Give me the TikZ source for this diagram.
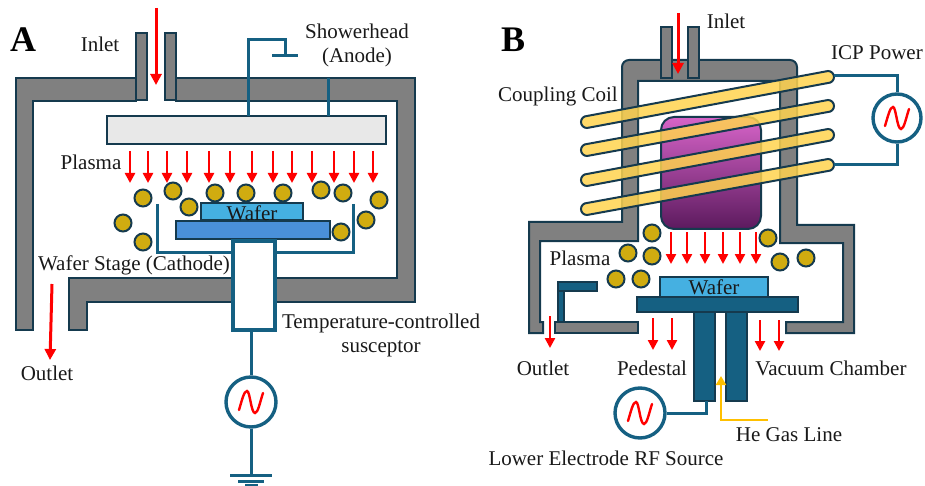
\documentclass[tikz,border=0pt]{standalone}
\usepackage{fontspec}
\setmainfont{Liberation Serif}
\usetikzlibrary{arrows.meta}
\definecolor{navy}{HTML}{153A4E}
\definecolor{wallgray}{HTML}{808080}
\definecolor{wire}{HTML}{156082}
\definecolor{skyb}{HTML}{45B0E1}
\definecolor{stageb}{HTML}{4A90D9}
\definecolor{gold}{HTML}{D0AC10}
\definecolor{coil}{HTML}{FFD34F}
\definecolor{heline}{HTML}{FFC000}
\definecolor{plasmatop}{HTML}{D664C8}
\definecolor{plasmabot}{HTML}{5C1A5E}
\tikzset{
  wall/.style={fill=wallgray,draw=navy,line width=2pt,line join=miter},
  wirel/.style={draw=wire,line width=3pt},
  flow/.style={draw=red,line width=3pt,-{Triangle[length=11pt,width=11pt]}},
  flowthin/.style={draw=red,line width=2.4pt,-{Triangle[length=10pt,width=10pt]}},
  particle/.style={circle,fill=gold,draw=navy,line width=2pt,minimum size=17pt,inner sep=0pt},
  lbl/.style={font=\fontsize{21}{23}\selectfont,inner sep=0pt,text=black!90},
  letter/.style={font=\fontsize{36}{38}\selectfont\bfseries,inner sep=0pt},
  source/.style={circle,draw=wire,line width=3.4pt,fill=white,minimum size=50pt,inner sep=0pt},
  coilbar/.style={draw=navy,line width=2pt,fill=coil,fill opacity=.85},
  boxa/.style={draw=navy,line width=2pt,inner sep=0pt},
}
\newcommand{\sinewave}[1]{\draw[red,line width=2.4pt,line cap=round] ([shift={(-12,8)}]#1.center) .. controls ([shift={(-9,-2)}]#1.center) and ([shift={(-7,-11)}]#1.center) .. ([shift={(-4,-11)}]#1.center) .. controls ([shift={(-1,-11)}]#1.center) and ([shift={(0,11)}]#1.center) .. ([shift={(4,11)}]#1.center) .. controls ([shift={(7,11)}]#1.center) and ([shift={(9,0)}]#1.center) .. ([shift={(12,-9)}]#1.center);}
\begin{document}
\begin{tikzpicture}[x=1pt,y=-1pt]
\useasboundingbox (0,0) rectangle (925,486);
% ------- Panel A
\node[letter] (la) at (23,40) {A};
\draw[wall] (136,78) -- (16,78) -- (16,330) -- (33,330) -- (33,101) -- (136,101) -- cycle;
\draw[wall] (176,78) -- (415,78) -- (415,302) -- (87,302) -- (87,330) -- (69,330) -- (69,278) -- (397,278) -- (397,101) -- (176,101) -- cycle;
\draw[wall] (136,33) rectangle (147,100);
\draw[wall] (165,33) rectangle (176,100);
\coordinate (ainT) at (156,8); \coordinate (ainB) at (156,85);
\draw[flow] (ainT) -- (ainB);
\node[lbl] (tinA) at (100,44) {Inlet};
\node[boxa,fill=black!9,minimum width=279pt,minimum height=28pt] (shower) at (246.5,130) {};
\coordinate (g1) at (248,40); \coordinate (g2) at (285,40); \coordinate (g3) at (285,56);
\draw[wirel] (248,116) -- (g1) -- (g2) -- (g3);
\draw[wirel] (272,56) -- (298,56);
\draw[wirel] (328,116) -- (328,78);
\node[lbl] (tsh) at (357,31) {Showerhead};
\node[lbl] (tan) at (357,57) {(Anode)};
\node[lbl] (tplA) at (91,162) {Plasma};
\foreach \x in {130,148,167,187,209,230,252,273,292,312,334,354,373}
  \draw[flowthin] (\x,151) -- (\x,183);
\foreach \x/\y in {143/198,173/191,189/207,215/193,123/223,143/242,246/193,283/193,321/190,343/193,379/200,366/220,341/232}
  \node[particle] at (\x,\y) {};
\draw[wirel] (157,204) -- (157,252) -- (233,252);
\draw[wirel] (353,204) -- (353,252) -- (275,252);
\node[boxa,fill=skyb,minimum width=102pt,minimum height=17pt] (waferA) at (252,212) {};
\node[boxa,fill=stageb,minimum width=154pt,minimum height=18pt] (stageA) at (253,230) {};
\node[lbl] at (252,213) {Wafer};
\node[draw=wire,line width=3.4pt,fill=white,minimum width=42pt,minimum height=89pt,inner sep=0pt] (susc) at (254,285.5) {};
\node[lbl] (tws) at (134,265) {Wafer Stage (Cathode)};
\node[lbl] (ttc) at (381,323) {Temperature-controlled};
\node[lbl] (tsu) at (381,349) {susceptor};
\node[source] (srcA) at (251,402) {};
\sinewave{srcA}
\coordinate (gnd) at (251,475);
\draw[wirel] (susc.south -| srcA.center) -- (srcA.north);
\draw[wirel] (srcA.south) -- (gnd);
\draw[wirel] (230,475) -- (272,475);
\draw[wirel] (238,481) -- (264,481);
\draw[wirel] (245,485) -- (258,485);
\draw[flow] (52,284) -- (50,360);
\node[lbl] (toA) at (47,373) {Outlet};
% ------- Panel B
\node[letter] (lb) at (513,40) {B};
\draw[wall] (629,60) -- (790,60) arc[start angle=-90,end angle=0,radius=7] -- (797,225) -- (854,225) -- (854,333) -- (786,333) -- (786,322) -- (843,322) -- (843,243) -- (780,243) -- (780,81) -- (638,81) -- (638,241) -- (540,241) -- (540,322) -- (543,322) -- (543,333) -- (529,333) -- (529,222) -- (622,222) -- (622,67) arc[start angle=180,end angle=270,radius=7] -- cycle;
\draw[wall] (555,322) rectangle (638,333);
\draw[wall] (661,27) rectangle (672,78);
\draw[wall] (688,27) rectangle (699,78);
\draw[flow] (678,13) -- (678,74);
\node[lbl] (tinB) at (726,21) {Inlet};
\shade[top color=plasmatop,bottom color=plasmabot,draw=navy,line width=2pt,rounded corners=13pt] (661,117) rectangle (761,229);
\foreach \ya/\yb in {122/77,150/106,180/135,209/165}{
  \path[coilbar] (587,\ya-6) -- (828,\yb-6) arc[start angle=-90,end angle=90,radius=6] -- (587,\ya+6) arc[start angle=90,end angle=270,radius=6] -- cycle;
}
\coordinate (c1) at (834,76); \coordinate (c2) at (897,76); \coordinate (c3) at (897,165); \coordinate (c4) at (834,165);
\node[source,minimum size=48pt] (srcI) at (897,118) {};
\draw[wirel] (c1) -- (c2) -- (srcI.north);
\draw[wirel] (srcI.south) -- (c3) -- (c4);
\sinewave{srcI}
\node[lbl] (ticp) at (877,53) {ICP Power};
\node[lbl] (tcc) at (558,96) {Coupling Coil};
\foreach \x in {671,687,705,723,740,756}
  \draw[flowthin] (\x,232) -- (\x,264);
\foreach \x/\y in {652/233,628/253,652/256,616/279,641/279,768/238,780/262,806/258}
  \node[particle] at (\x,\y) {};
\node[lbl] (tplB) at (580,258) {Plasma};
\node[boxa,fill=skyb,minimum width=108pt,minimum height=21pt] (waferB) at (714,287) {};
\node[lbl] at (714,287) {Wafer};
\node[boxa,fill=wire,minimum width=161pt,minimum height=15pt] (ped) at (717.5,304.5) {};
\node[boxa,fill=wire,minimum width=21pt,minimum height=89pt] (legL) at (704.5,356.5) {};
\node[boxa,fill=wire,minimum width=21pt,minimum height=89pt] (legR) at (736.5,356.5) {};
\draw[navy,line width=1.6pt,fill=wire] (558,282) rectangle (597,291);
\draw[navy,line width=1.6pt,fill=wire] (558,291) rectangle (564,322);
\draw[flowthin] (550,316) -- (550,348);
\foreach \x in {653,672}
  \draw[flowthin] (\x,318) -- (\x,350);
\foreach \x in {760,779}
  \draw[flowthin] (\x,320) -- (\x,351);
\node[lbl] (toB) at (543,368) {Outlet};
\node[lbl] (tped) at (652,368) {Pedestal};
\node[lbl] (tvac) at (831,368) {Vacuum Chamber};
\node[source] (srcL) at (640,413) {};
\sinewave{srcL}
\draw[wirel] (srcL.east) -- (706,413) -- (706,401);
\coordinate (he) at (768,420);
\draw[draw=heline,line width=2.4pt,-{Triangle[length=9pt,width=10pt]}] (he) -- (721,420) -- (721,376);
\node[lbl] (the) at (789,435) {He Gas Line};
\node[lbl] (tlo) at (606,458) {Lower Electrode RF Source};
\end{tikzpicture}
\end{document}
